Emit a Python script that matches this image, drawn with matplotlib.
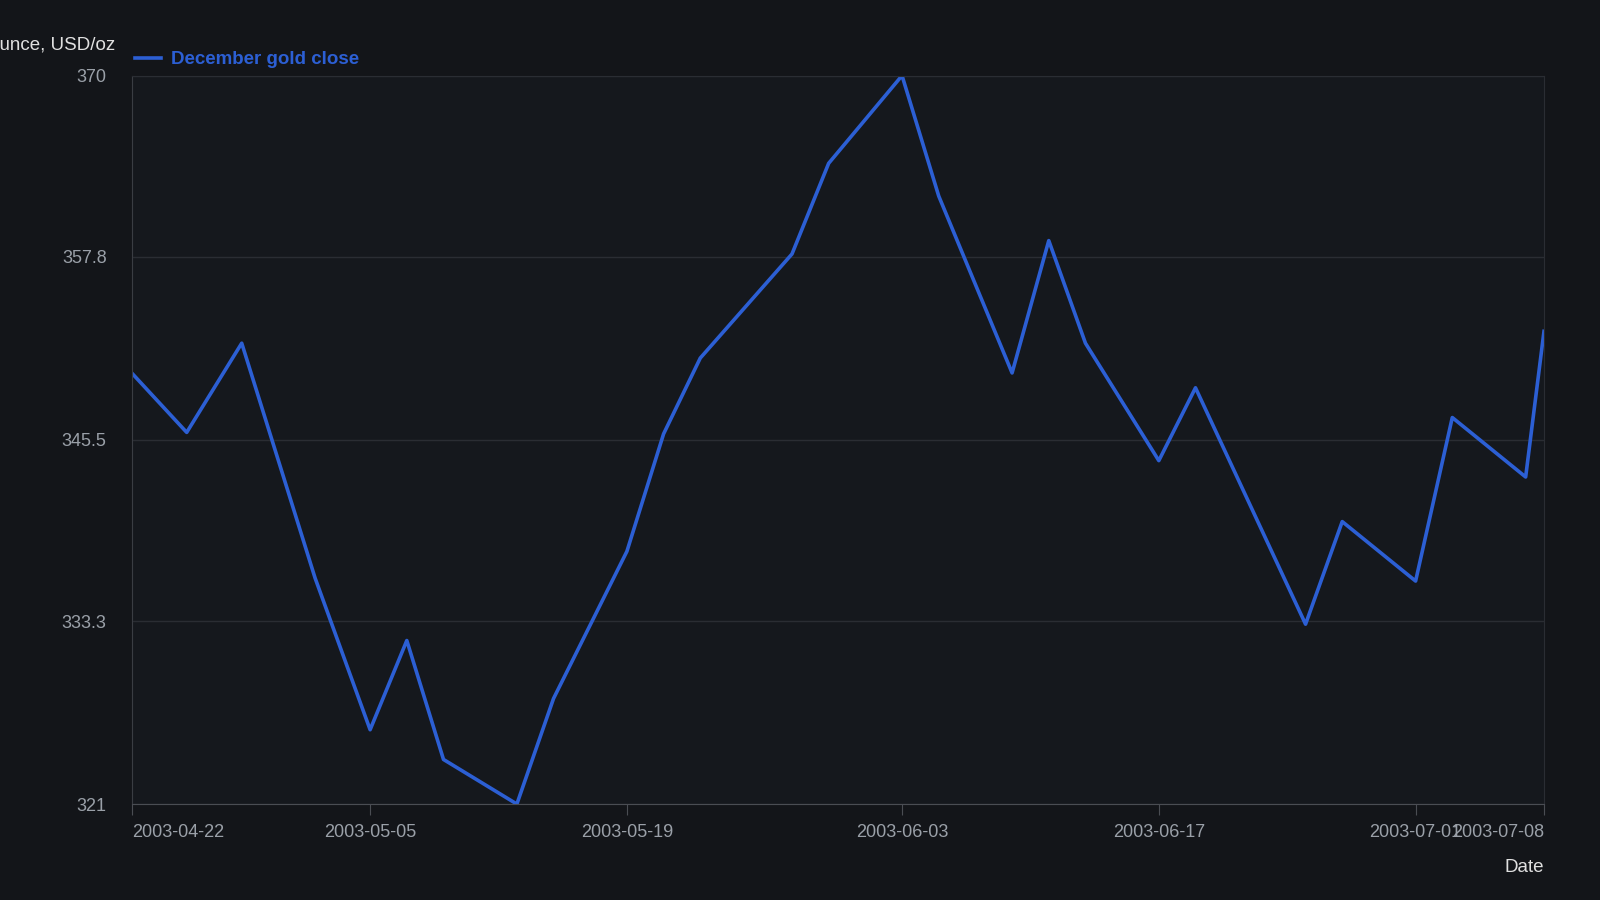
import matplotlib
matplotlib.use("Agg")
import matplotlib.pyplot as plt
import pandas as pd

plt.rcParams['font.family'] = ['Liberation Sans', 'DejaVu Sans']

dates = ["2003-04-22","2003-04-25","2003-04-28","2003-05-02","2003-05-05","2003-05-07",
         "2003-05-09","2003-05-13","2003-05-15","2003-05-19","2003-05-21","2003-05-23",
         "2003-05-28","2003-05-30","2003-06-03","2003-06-05","2003-06-09","2003-06-11",
         "2003-06-13","2003-06-17","2003-06-19","2003-06-25","2003-06-27","2003-07-01",
         "2003-07-03","2003-07-07","2003-07-08"]
close = [350.0,346.0,352.0,336.2,326.0,332.0,324.0,321.0,328.1,338.0,345.9,351.0,
         358.0,364.1,370.0,361.9,350.0,358.9,352.0,344.1,349.0,333.1,340.0,336.0,
         347.0,343.0,352.8]
yticks = [321, 333.3, 345.5, 357.8, 370]
xtick_labels = ["2003-04-22","2003-05-05","2003-05-19","2003-06-03","2003-06-17","2003-07-01","2003-07-08"]

bg = "#131519"
fg = "#9aa0a8"
blue = "#2c5fd4"
x = pd.to_datetime(dates)

fig = plt.figure(figsize=(16, 9), dpi=100, facecolor=bg)
ax = fig.add_axes([0.0823, 0.1066, 0.8827, 0.8094], facecolor="#15181d")
ax.plot(x, close, color=blue, lw=2.6, label="December gold close")
ax.set_ylim(321, 370)
ax.set_xlim(x[0], x[-1])
ax.set_yticks(yticks)
ax.set_yticklabels([f"{v:g}" for v in yticks])
ax.set_xticks(pd.to_datetime(xtick_labels))
ax.set_xticklabels(xtick_labels)
ax.grid(axis="y", color="#2a2d33", lw=1)
for s in ["top", "right"]:
    ax.spines[s].set_color("#2a2d33")
ax.spines["left"].set_color("#3a3d43")
ax.spines["bottom"].set_color("#4a4d53")
ax.tick_params(axis="y", length=0, colors=fg, labelsize=13, pad=18)
ax.tick_params(axis="x", length=8, color="#4a4d53", colors=fg, labelsize=13, pad=6)
for lbl in ax.get_xticklabels():
    lbl.set_horizontalalignment("left" if lbl.get_text() == "2003-04-22" else ("right" if lbl.get_text() == "2003-07-08" else "center"))

fig.text(0.072, 0.949, "Price per ounce, USD/oz", color="#e0e0e0", fontsize=13.5, ha="right", va="center")
leg = ax.legend(loc="lower left", bbox_to_anchor=(-0.003, 1.0), frameon=False,
                handlelength=1.4, handletextpad=0.5, borderaxespad=0, fontsize=13.5)
for t in leg.get_texts():
    t.set_color(blue); t.set_fontweight("bold")
fig.text(0.965, 0.036, "Date", color="#e0e0e0", fontsize=13.5, ha="right", va="center")
fig.savefig("out.png", dpi=100, facecolor=bg)
